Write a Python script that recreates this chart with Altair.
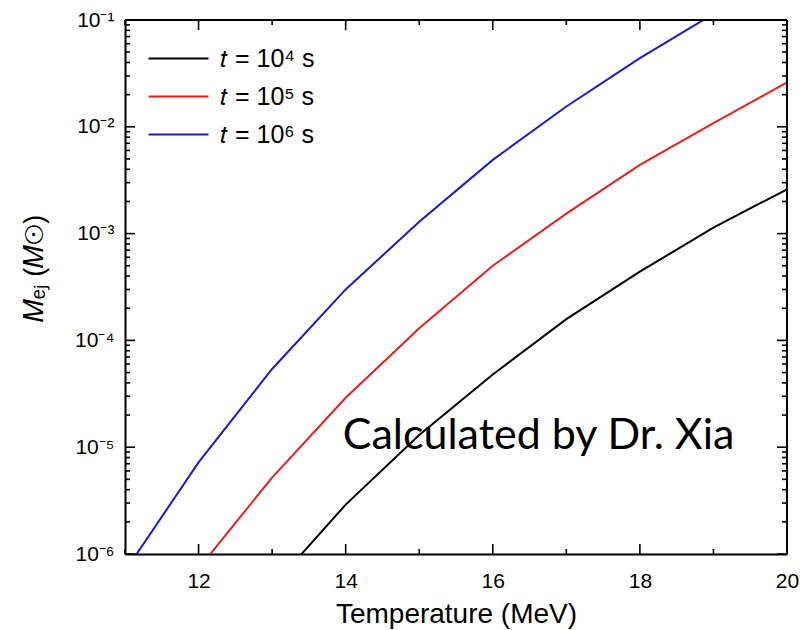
import altair as alt
import pandas as pd

# ---- data ----
temps = [11, 12, 13, 14, 15, 16, 17, 18, 19, 20]
m_t1e4 = [None, None, 4.9e-7, 2.9e-6, 1.3e-5, 4.8e-5, 1.58e-4, 4.4e-4, 1.14e-3, 2.6e-3]
m_t1e5 = [None, 7.3e-7, 5.2e-6, 2.9e-5, 1.30e-4, 5.0e-4, 1.54e-3, 4.4e-3, 1.08e-2, 2.6e-2]
m_t1e6 = [6.9e-7, 7.2e-6, 5.4e-5, 3.0e-4, 1.29e-3, 4.9e-3, 1.55e-2, 4.4e-2, 1.14e-1, None]
series_labels = ["𝑡 = 10⁴ s", "𝑡 = 10⁵ s", "𝑡 = 10⁶ s"]
series_colors = ["#000000", "#e61e1e", "#1a1ac8"]

x_major = [12, 14, 16, 18, 20]
x_minor = [11, 13, 15, 17, 19]
y_major = [1e-6, 1e-5, 1e-4, 1e-3, 1e-2, 1e-1]
y_minor = [m * 10.0 ** k for k in range(-6, -1) for m in range(2, 10)]

note_text = ["Calculated by Dr. Xia"]
note_x = [13.96]
note_y = [9.6e-6]

rows = []
for lab, vals in zip(series_labels, [m_t1e4, m_t1e5, m_t1e6]):
    for t, v in zip(temps, vals):
        if v is not None:
            rows.append({"T": t, "M": v, "series": lab})
df = pd.DataFrame(rows)
notes = pd.DataFrame({"T": note_x, "M": note_y, "text": note_text})

W, H = 662, 534
FONT = "Liberation Sans"
MAJ, MIN, TW = 10, 5, 1.6

xscale = alt.Scale(domain=[11, 20], nice=False, zero=False)
yscale = alt.Scale(type="log", domain=[1e-6, 1e-1], nice=False)

x_axis = alt.Axis(orient="bottom", values=x_major, ticks=False, domain=True,
                  domainColor="black", domainWidth=2,
                  grid=False, labelFont=FONT, labelFontSize=21, labelColor="black",
                  labelPadding=16, labelFlush=False, labelOverlap=False,
                  title="Temperature (MeV)", titleFont=FONT, titleFontSize=28,
                  titleFontWeight="normal", titleColor="black", titlePadding=9)
y_axis = alt.Axis(orient="left", values=y_major, ticks=False, domain=True,
                  domainColor="black", domainWidth=2,
                  grid=False, labelFont=FONT, labelFontSize=21, labelColor="black",
                  labelPadding=11, labelOverlap=False,
                  labelExpr="'10⁻' + ['⁰','¹','²','³','⁴','⁵','⁶'][round(-log(datum.value)/LN10)]",
                  title="𝑀ₑⱼ (𝑀⊙)", titleFont=FONT, titleFontSize=27,
                  titleFontWeight="normal", titleColor="black",
                  titleAnchor="middle", titleX=-77, titleY=248)

X = alt.X("T:Q", scale=xscale, axis=x_axis)
Y = alt.Y("M:Q", scale=yscale, axis=y_axis)

def xrules(vals, y1, y2):
    return alt.Chart(pd.DataFrame({"T": vals})).mark_rule(color="black", strokeWidth=TW).encode(
        x=X, y=alt.value(y1), y2=alt.value(y2))

def yrules(vals, x1, x2):
    return alt.Chart(pd.DataFrame({"M": vals})).mark_rule(color="black", strokeWidth=TW).encode(
        y=Y, x=alt.value(x1), x2=alt.value(x2))

ticks = [
    xrules(x_major, H, H - MAJ), xrules(x_minor, H, H - MIN),
    xrules(x_major, 0, MAJ), xrules(x_minor, 0, MIN),
    yrules(y_major, 0, MAJ), yrules(y_minor, 0, MIN),
    yrules(y_major, W, W - MAJ), yrules(y_minor, W, W - MIN),
]

top_edge = alt.Chart(notes).mark_rule(color="black", strokeWidth=2).encode(
    x=alt.value(0), x2=alt.value(W), y=alt.value(0))
right_edge = alt.Chart(notes).mark_rule(color="black", strokeWidth=2).encode(
    x=alt.value(W), y=alt.value(0), y2=alt.value(H))

lines = alt.Chart(df).mark_line(clip=True, strokeWidth=2).encode(
    x=X, y=Y,
    color=alt.Color("series:N", sort=series_labels,
                    scale=alt.Scale(domain=series_labels, range=series_colors),
                    legend=alt.Legend(orient="none", legendX=21, legendY=26, title=None,
                                      symbolType="M-1,0H5", symbolSize=400,
                                      symbolStrokeWidth=2, labelOffset=49,
                                      labelFont=FONT, labelFontSize=25, labelColor="black",
                                      rowPadding=12, padding=0)),
)

note = alt.Chart(notes).mark_text(align="left", baseline="alphabetic", font="Lato",
                                  fontSize=43, color="black").encode(
    x=X, y=Y, text="text:N",
)

chart = alt.layer(lines, *ticks, top_edge, right_edge, note).properties(
    width=W, height=H,
    autosize=alt.AutoSizeParams(type="none"),
    padding={"left": 125, "top": 20, "right": 17, "bottom": 76},
).configure_view(strokeWidth=0)

chart.save("out.html", embed_options={"renderer": "svg", "actions": False})
